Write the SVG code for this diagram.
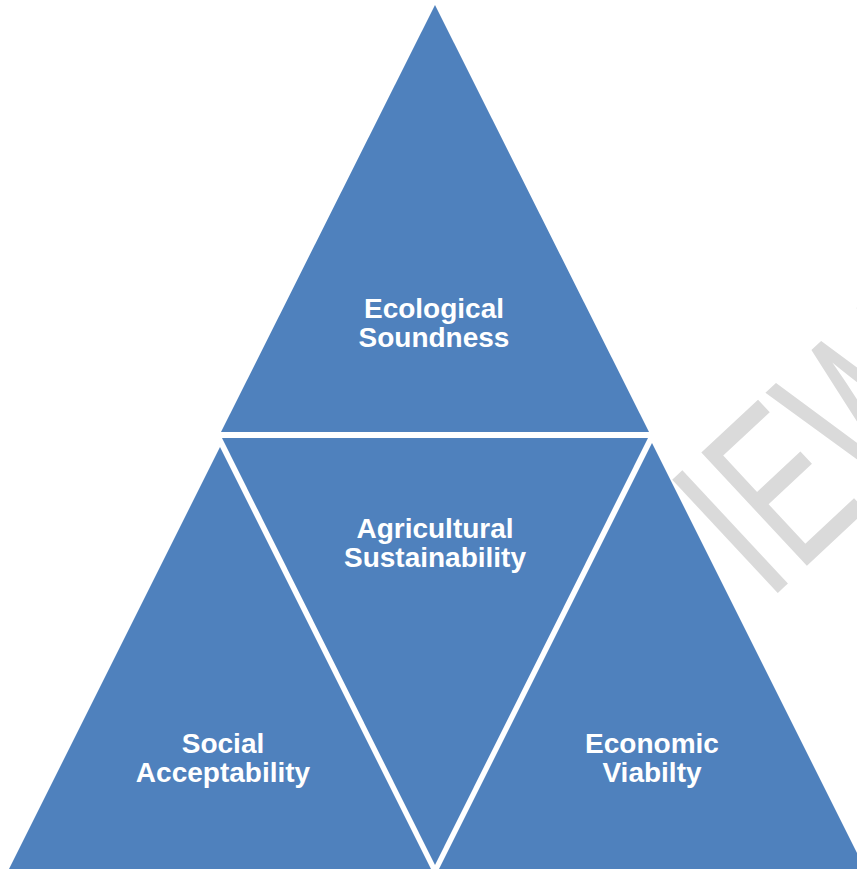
<svg xmlns="http://www.w3.org/2000/svg" width="857" height="869" viewBox="0 0 857 869">
  <style>
    .tri { fill: #4F81BD; }
    .lbl { font-family: "Liberation Sans", Arial, sans-serif; font-weight: bold; font-size: 28px; fill: #FFFFFF; text-anchor: middle; }
    .wm { font-family: "Liberation Sans", Arial, sans-serif; font-size: 225px; fill: #DADADA; }
  </style>
  <rect x="0" y="0" width="857" height="869" fill="#FFFFFF"/>
  <g id="watermark">
    <text class="wm" transform="translate(783,588) rotate(-43) scale(0.66,1)" x="-31.5" y="0">IEW</text>
  </g>
  <g id="connectors"></g>
  <g id="ecological">
    <polygon class="tri" points="435,5 221,432 649,432"/>
    <text class="lbl" x="434" y="318">Ecological</text>
    <text class="lbl" x="434" y="347">Soundness</text>
  </g>
  <g id="agricultural">
    <polygon class="tri" points="222,438 648,438 435,865"/>
    <text class="lbl" x="435" y="538">Agricultural</text>
    <text class="lbl" x="435" y="567">Sustainability</text>
  </g>
  <g id="social">
    <polygon class="tri" points="220,447 9,869 431,869"/>
    <text class="lbl" x="223" y="753">Social</text>
    <text class="lbl" x="223" y="782">Acceptability</text>
  </g>
  <g id="economic">
    <polygon class="tri" points="652,443 439,869 865,869"/>
    <text class="lbl" x="652" y="753">Economic</text>
    <text class="lbl" x="652" y="782">Viabilty</text>
  </g>
</svg>
